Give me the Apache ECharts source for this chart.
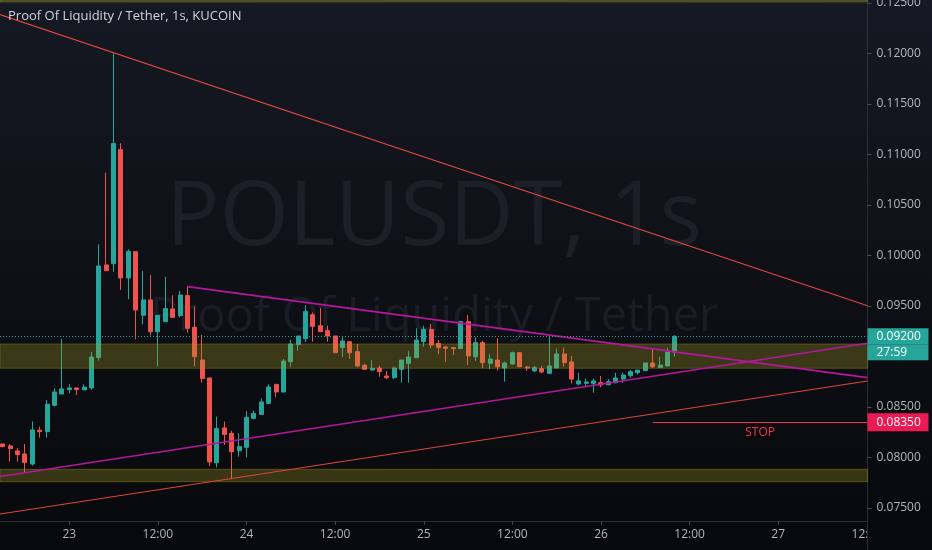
<!DOCTYPE html>
<html>
<head>
<meta charset="utf-8">
<script src="https://cdn.jsdelivr.net/npm/echarts@6/dist/echarts.min.js"></script>
<style>
html,body{margin:0;padding:0;background:#0b0d11;}
#chart{width:932px;height:550px;}
</style>
</head>
<body>
<div id="chart"></div>
<script>
// ---- data (hours relative to day 23 00:00, 1h candles) ----
const hours = [-9,-8,-7,-6,-5,-4,-3,-2,-1,0,1,2,3,4,5,6,7,8,9,10,11,12,13,14,15,16,17,18,19,20,21,22,23,24,25,26,27,28,29,30,31,32,33,34,35,36,37,38,39,40,41,42,43,44,45,46,47,48,49,50,51,52,53,54,55,56,57,58,59,60,61,62,63,64,65,66,67,68,69,70,71,72,73,74,75,76,77,78,79,80,81,82];
const opens = [0.08134,0.08115,0.08065,0.08035,0.07936,0.08270,0.08256,0.08517,0.08629,0.08672,0.08689,0.08669,0.08689,0.08989,0.09906,0.09920,0.11048,0.09778,0.10038,0.09408,0.09560,0.09246,0.09345,0.09471,0.09405,0.09603,0.09289,0.08966,0.08788,0.07949,0.08293,0.08240,0.08068,0.08101,0.08388,0.08427,0.08536,0.08724,0.08649,0.08949,0.09117,0.09177,0.09414,0.09305,0.09256,0.09203,0.09088,0.09147,0.09048,0.08913,0.08866,0.08886,0.08807,0.08790,0.08873,0.08932,0.08988,0.09147,0.09269,0.09130,0.09094,0.09088,0.09078,0.09345,0.08998,0.09137,0.08932,0.08965,0.08886,0.08926,0.09038,0.08896,0.08857,0.08880,0.08833,0.08886,0.09025,0.08946,0.08728,0.08734,0.08734,0.08741,0.08721,0.08741,0.08777,0.08810,0.08840,0.08860,0.08936,0.08890,0.08906,0.09045];
const closes = [0.08108,0.08088,0.08029,0.07950,0.08273,0.08256,0.08527,0.08649,0.08679,0.08689,0.08672,0.08698,0.08995,0.09896,0.09850,0.11108,0.09778,0.10042,0.09461,0.09560,0.09246,0.09408,0.09474,0.09388,0.09609,0.09279,0.08999,0.08781,0.07956,0.08286,0.08227,0.08058,0.08108,0.08398,0.08437,0.08550,0.08698,0.08649,0.08956,0.09124,0.09203,0.09447,0.09299,0.09246,0.09203,0.09038,0.09154,0.09038,0.08906,0.08873,0.08883,0.08850,0.08790,0.08886,0.08965,0.08995,0.09163,0.09269,0.09114,0.09088,0.09081,0.09078,0.09345,0.09005,0.09137,0.08939,0.08975,0.08899,0.08936,0.09038,0.08899,0.08886,0.08890,0.08847,0.08906,0.09025,0.08939,0.08777,0.08758,0.08748,0.08758,0.08718,0.08751,0.08787,0.08817,0.08850,0.08866,0.08936,0.08899,0.08916,0.09045,0.09200];
const lows = [0.08101,0.07960,0.07960,0.07854,0.07920,0.08197,0.08197,0.08504,0.08629,0.08636,0.08619,0.08669,0.08669,0.08959,0.09850,0.09840,0.09659,0.09566,0.09170,0.09319,0.09207,0.08900,0.09345,0.09388,0.09388,0.09236,0.08900,0.08741,0.07916,0.07900,0.08124,0.07784,0.08009,0.08002,0.08378,0.08421,0.08530,0.08596,0.08645,0.08899,0.09058,0.09144,0.09147,0.09246,0.09147,0.09038,0.08995,0.08978,0.08893,0.08873,0.08860,0.08800,0.08777,0.08777,0.08741,0.08741,0.08988,0.09097,0.09081,0.09022,0.08949,0.09015,0.09078,0.08916,0.08956,0.08883,0.08876,0.08860,0.08751,0.08916,0.08893,0.08857,0.08847,0.08833,0.08827,0.08886,0.08899,0.08734,0.08715,0.08695,0.08642,0.08695,0.08715,0.08734,0.08738,0.08790,0.08823,0.08856,0.08886,0.08886,0.08906,0.08998];
const highs = [0.08134,0.08134,0.08095,0.08134,0.08356,0.08306,0.08570,0.08685,0.09174,0.08725,0.08689,0.08725,0.09045,0.10111,0.10821,0.12009,0.11111,0.10061,0.10038,0.09847,0.09807,0.09408,0.09787,0.09606,0.09649,0.09695,0.09494,0.09213,0.08788,0.08405,0.08356,0.08266,0.08240,0.08461,0.08464,0.08586,0.08724,0.08724,0.08975,0.09163,0.09203,0.09507,0.09437,0.09480,0.09305,0.09203,0.09203,0.09147,0.09124,0.08926,0.08965,0.08906,0.08856,0.08899,0.08965,0.09054,0.09279,0.09305,0.09322,0.09163,0.09104,0.09094,0.09351,0.09411,0.09190,0.09157,0.09025,0.09180,0.08949,0.09048,0.09038,0.08906,0.08906,0.08906,0.09203,0.09078,0.09088,0.09005,0.08840,0.08781,0.08781,0.08807,0.08777,0.08840,0.08840,0.08866,0.08866,0.08936,0.09087,0.08998,0.09087,0.09210];

const priceTicks = [0.075,0.080,0.085,0.090,0.095,0.100,0.105,0.110,0.115,0.120,0.125];
const timeTicks = [0,12,24,36,48,60,72,84,96,108];
const timeTickLabels = ['23','12:00','24','12:00','25','12:00','26','12:00','27','12:00'];

const lastPrice = 0.09200;
const countdownText = '27:59';
const stopPrice = 0.08350;
const stopStartHour = 79;

// drawing ranges
const XMIN = -9.384, XMAX = 108.09;
const YMIN = 0.073644, YMAX = 0.125297;

// zones (price ranges)
const zoneLow = [0.077604, 0.078832];
const zoneMid = [0.088832, 0.091238];
const zoneTop = [0.12510, 0.125297];

// trend lines [[hour, price], [hour, price]]
const redLineTop = [[XMIN, 0.12386], [XMAX, 0.09502]];
const redLineBottom = [[XMIN, 0.074406], [XMAX, 0.087574]];
const magentaLineTop = [[16, 0.09692], [XMAX, 0.087911]];
const magentaLineBottom = [[XMIN, 0.078119], [XMAX, 0.091317]];

// ---- chart ----
const FONT = "'Open Sans', 'Noto Sans', sans-serif";
const GREEN = '#26a69a', RED = '#ef5350';
const candleData = hours.map((h, i) => [h, opens[i], closes[i], lows[i], highs[i]]);

const chart = echarts.init(document.getElementById('chart'), null, {renderer: 'canvas'});

function trend(data, color, width) {
  return {
    type: 'line', data: data, symbol: 'none', silent: true, z: 4,
    lineStyle: {color: color, width: width}, animation: false
  };
}

const tagLabel = (text, bg, pad) => ({
  show: true, position: 'end', formatter: text, distance: 0,
  color: '#ffffff', fontSize: 12, fontFamily: FONT, lineHeight: 14,
  backgroundColor: bg, padding: pad, width: 47, opacity: 1
});
const HIDDEN_LINE = {color: 'rgba(0,0,0,0)', width: 1, type: 'solid'};

const option = {
  backgroundColor: new echarts.graphic.LinearGradient(0, 0, 0, 1, [
    {offset: 0, color: '#151923'},
    {offset: 0.5, color: '#0e1016'},
    {offset: 1, color: '#08090c'}
  ]),
  animation: false,
  title: [
    {text: 'Proof Of Liquidity / Tether, 1s, KUCOIN', left: 8, top: 10, padding: 0,
     textStyle: {color: '#d1d4dc', fontSize: 13, fontWeight: 'normal', fontFamily: FONT}},
    {text: 'POLUSDT, 1s', left: 434, top: 175, textAlign: 'center', padding: 0, z: 0,
     textStyle: {color: '#1c1f28', fontSize: 89, fontWeight: 'normal', fontFamily: FONT}},
    {text: 'Proof Of Liquidity / Tether', left: 434, top: 294, textAlign: 'center', padding: 0, z: 0,
     textStyle: {color: '#1a1d25', fontSize: 47, fontWeight: 'normal', fontFamily: FONT}}
  ],
  grid: {left: 0, right: 64.5, top: 0, bottom: 28.3, containLabel: false, outerBoundsMode: 'none'},
  xAxis: {
    type: 'value', min: XMIN, max: XMAX,
    axisLine: {show: true, onZero: false, lineStyle: {color: '#2a2e39', width: 1}},
    axisTick: {show: true, length: 3, customValues: timeTicks, lineStyle: {color: '#4a4e59'}},
    axisLabel: {
      customValues: timeTicks, color: '#b2b5be', fontSize: 12, fontFamily: FONT, margin: 7,
      formatter: v => timeTickLabels[timeTicks.indexOf(Math.round(v))] || ''
    },
    splitLine: {show: false}
  },
  yAxis: {
    type: 'value', position: 'right', min: YMIN, max: YMAX, scale: true,
    axisLine: {show: true, onZero: false, lineStyle: {color: '#2a2e39', width: 1}},
    axisTick: {show: true, length: 4, customValues: priceTicks, lineStyle: {color: '#4a4e59'}},
    axisLabel: {
      customValues: priceTicks, color: '#b2b5be', fontSize: 12, fontFamily: FONT, margin: 9,
      formatter: v => v.toFixed(5)
    },
    splitLine: {show: false}
  },
  series: [
    {
      type: 'candlestick', data: candleData, barWidth: 4.5, z: 2, silent: true,
      itemStyle: {color: GREEN, color0: RED, borderColor: GREEN, borderColor0: RED, borderWidth: 1},
      markLine: {
        silent: true, symbol: ['none', 'none'], z: 6, animation: false, precision: 8,
        data: [
          {yAxis: lastPrice, lineStyle: {color: GREEN, type: [1, 2], width: 1},
           label: tagLabel(lastPrice.toFixed(5), GREEN, [1, 5, 1, 9])},
          {yAxis: lastPrice - 0.001584, lineStyle: HIDDEN_LINE,
           label: tagLabel(countdownText, GREEN, [1, 5, 1, 9])},
          {yAxis: stopPrice, lineStyle: HIDDEN_LINE,
           label: tagLabel(stopPrice.toFixed(5), '#eb1a52', [2, 5, 2, 9])},
          [
            {coord: [stopStartHour, stopPrice], lineStyle: {color: '#e8334a', width: 1, type: 'solid'},
             label: {show: true, position: 'insideMiddleBottom', formatter: 'STOP', color: '#f23645',
                     fontSize: 12, fontFamily: FONT, distance: 4}},
            {coord: [XMAX, stopPrice]}
          ]
        ]
      }
    },
    {
      type: 'line', data: [], silent: true, z: 3,
      markArea: {
        silent: true, z: 3,
        itemStyle: {color: 'rgba(170,155,35,0.30)', borderColor: 'rgba(170,155,35,0.36)', borderWidth: 1},
        data: [
          [{yAxis: zoneMid[0]}, {yAxis: zoneMid[1]}],
          [{yAxis: zoneLow[0]}, {yAxis: zoneLow[1]}],
          [{yAxis: zoneTop[0]}, {yAxis: zoneTop[1]}]
        ]
      }
    },
    trend(redLineTop, '#e0443c', 1.2),
    trend(redLineBottom, '#e0443c', 1.2),
    trend(magentaLineTop, '#b5179e', 1.6),
    trend(magentaLineBottom, '#b5179e', 1.6)
  ],
  graphic: [
    {type: 'rect', shape: {x: 868, y: 522.5, width: 64, height: 28}, style: {fill: '#08090c'}, z: 100, silent: true},
    {type: 'line', shape: {x1: 867.5, y1: 521.7, x2: 867.5, y2: 550}, style: {stroke: '#2a2e39', lineWidth: 1}, z: 101, silent: true}
  ]
};
chart.setOption(option);
</script>
</body>
</html>
